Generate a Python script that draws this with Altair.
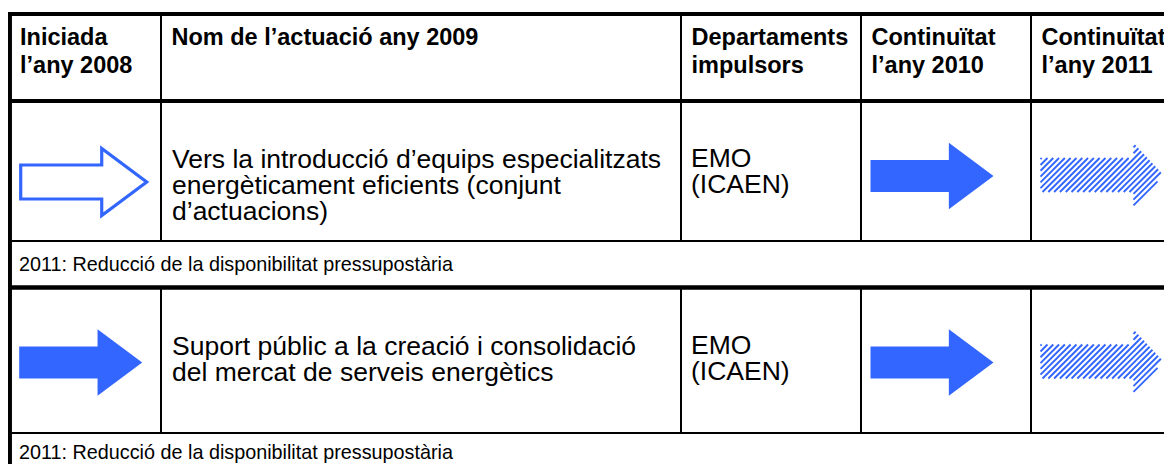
import math
import altair as alt
import pandas as pd

# ---------------- data ----------------
HEADERS = ["Iniciada\nl’any 2008", "Nom de l’actuació any 2009", "Departaments\nimpulsors",
           " Continuïtat\nl’any 2010", "Continuïtat\nl’any 2011"]
ACTUACIONS = ["Vers la introducció d’equips especialitzats\nenergèticament eficients (conjunt\nd’actuacions)",
              "Suport públic a la creació i consolidació\ndel mercat de serveis energètics"]
DEPARTAMENTS = ["EMO\n(ICAEN)", "EMO\n(ICAEN)"]
ESTAT_2008 = ["buida", "plena"]
ESTAT_2010 = ["plena", "plena"]
ESTAT_2011 = ["ratllada", "ratllada"]
OBSERVACIONS = ["2011: Reducció de la disponibilitat pressupostària",
                "2011: Reducció de la disponibilitat pressupostària"]

# ---------------- layout ----------------
W, H = 1156, 456
COL_X = [1.7, 153, 673, 853, 1023, 1180]
TOP = 6
HEAD_BOTTOM = 93
ROW_TOP = [93, 279.5]
ROW_BOTTOM = [233, 425]
NOTE_BOTTOM = [279.5, 470]
BLUE = "#3366FF"
FONT = "Liberation Sans"

# table rules
rules = []
rules.append(dict(x=-10, x2=W + 20, y=TOP, y2=TOP, w=4.2))
rules.append(dict(x=-10, x2=W + 20, y=HEAD_BOTTOM, y2=HEAD_BOTTOM, w=4.2))
for r in range(len(ACTUACIONS)):
    rules.append(dict(x=-10, x2=W + 20, y=ROW_BOTTOM[r], y2=ROW_BOTTOM[r], w=2))
    rules.append(dict(x=-10, x2=W + 20, y=NOTE_BOTTOM[r], y2=NOTE_BOTTOM[r], w=4.6))
rules.append(dict(x=COL_X[0], x2=COL_X[0], y=TOP - 2, y2=H + 20, w=4.5))
bands = [(TOP, HEAD_BOTTOM)] + list(zip(ROW_TOP, ROW_BOTTOM))
for (a, b) in bands:
    for cx in COL_X[1:5]:
        rules.append(dict(x=cx, x2=cx, y=a, y2=b, w=2))
rules_df = pd.DataFrame(rules)

# texts
head_df = pd.DataFrame([dict(x=(COL_X[i] + 10.5 if i else 12), y=37, t=h) for i, h in enumerate(HEADERS)])
body = []
notes = []
for r in range(len(ACTUACIONS)):
    body.append(dict(x=COL_X[1] + 11, y=ROW_TOP[r] + 67, t=ACTUACIONS[r]))
    body.append(dict(x=COL_X[2] + 10, y=ROW_TOP[r] + 66, t=DEPARTAMENTS[r]))
    notes.append(dict(x=11, y=min(ROW_BOTTOM[r] + 30, H - 5), t=OBSERVACIONS[r]))
body_df = pd.DataFrame(body)
note_df = pd.DataFrame(notes)

# arrows
STYLE = {"plena": dict(w=123, off=9.5, dy=0),
         "buida": dict(w=126, off=11, dy=6),
         "ratllada": dict(w=123, off=9.5, dy=-1)}
arrows = []
for r in range(len(ACTUACIONS)):
    for c, estat in ((0, ESTAT_2008[r]), (3, ESTAT_2010[r]), (4, ESTAT_2011[r])):
        st = STYLE[estat]
        arrows.append(dict(x=COL_X[c] + st["off"] + st["w"] / 2,
                           y=ROW_TOP[r] + 75 + st["dy"], tipus=estat))
arrows_df = pd.DataFrame(arrows)


def arrow_path(hs, sh, hh):
    pts = [(-1, -sh), (hs, -sh), (hs, -hh), (1, 0), (hs, hh), (hs, sh), (-1, sh)]
    return "M" + "L".join(f"{x:.4f},{y:.4f}" for x, y in pts) + "Z"


def clip(poly, p0, d):
    cx = sum(p[0] for p in poly) / len(poly)
    cy = sum(p[1] for p in poly) / len(poly)
    tmin, tmax = -1e9, 1e9
    n = len(poly)
    for i in range(n):
        ax, ay = poly[i]
        bx, by = poly[(i + 1) % n]
        nx, ny = -(by - ay), (bx - ax)
        if nx * (cx - ax) + ny * (cy - ay) < 0:
            nx, ny = -nx, -ny
        num = nx * (p0[0] - ax) + ny * (p0[1] - ay)
        den = nx * d[0] + ny * d[1]
        if abs(den) < 1e-12:
            if num < 0:
                return None
            continue
        t = -num / den
        if den > 0:
            tmin = max(tmin, t)
        else:
            tmax = min(tmax, t)
    if tmin < tmax:
        return tmin, tmax
    return None


def hatch_path(hs, sh, hh, step):
    rect = [(-1, -sh), (hs, -sh), (hs, sh), (-1, sh)]
    tri = [(hs, -hh), (1, 0), (hs, hh)]
    d = (1.0, -1.0)
    parts = []
    c = -1 - hh - 0.02
    while c < 1 + hh + 0.02:
        p0 = (c / 2, c / 2)
        for poly in (rect, tri):
            res = clip(poly, p0, d)
            if res:
                t0, t1 = res
                x0, y0 = p0[0] + t0 * d[0], p0[1] + t0 * d[1]
                x1, y1 = p0[0] + t1 * d[0], p0[1] + t1 * d[1]
                parts.append(f"M{x0:.4f},{y0:.4f}L{x1:.4f},{y1:.4f}")
        c += step
    return "".join(parts)


SOLID = arrow_path(0.274, 0.26, 0.54)
HOLLOW = arrow_path(0.286, 0.27, 0.532)
HATCH = hatch_path(0.512, 0.276, 0.52, 5.8 / 61.5)

xs = alt.Scale(domain=[0, W], nice=False, zero=False)
ys = alt.Scale(domain=[0, H], nice=False, zero=False, reverse=True)


def X(f="x"):
    return alt.X(f"{f}:Q", scale=xs, axis=None)


def Y(f="y"):
    return alt.Y(f"{f}:Q", scale=ys, axis=None)


rule_layer = alt.Chart(rules_df).mark_rule(color="black", strokeCap="butt").encode(
    x=X(), x2="x2:Q", y=Y(), y2="y2:Q",
    strokeWidth=alt.StrokeWidth("w:Q", scale=None, legend=None))

head_layer = alt.Chart(head_df).mark_text(
    align="left", baseline="alphabetic", lineBreak="\n", lineHeight=28,
    font=FONT, fontSize=23.5, fontWeight="bold", color="black").encode(x=X(), y=Y(), text="t:N")

body_layer = alt.Chart(body_df).mark_text(
    align="left", baseline="alphabetic", lineBreak="\n", lineHeight=26,
    font=FONT, fontSize=26.5, color="black").encode(x=X(), y=Y(), text="t:N")

note_layer = alt.Chart(note_df).mark_text(
    align="left", baseline="alphabetic", font=FONT, fontSize=19.8, color="black").encode(
    x=X(), y=Y(), text="t:N")

solid_layer = alt.Chart(arrows_df).transform_filter(alt.datum.tipus == "plena").mark_point(
    shape=SOLID, size=123 ** 2, filled=True, fill=BLUE, opacity=1, strokeWidth=0).encode(x=X(), y=Y())

hollow_layer = alt.Chart(arrows_df).transform_filter(alt.datum.tipus == "buida").mark_point(
    shape=HOLLOW, size=126 ** 2, filled=False, stroke=BLUE, fill="white", fillOpacity=1,
    opacity=1, strokeWidth=3.2).encode(x=X(), y=Y())

hatch_layer = alt.Chart(arrows_df).transform_filter(alt.datum.tipus == "ratllada").mark_point(
    shape=HATCH, size=123 ** 2, filled=False, stroke=BLUE, opacity=1, strokeWidth=1.9,
    strokeCap="butt").encode(x=X(), y=Y())

chart = alt.layer(rule_layer, head_layer, body_layer, note_layer,
                  solid_layer, hollow_layer, hatch_layer).properties(
    width=W, height=H, padding=0, autosize=alt.AutoSizeParams(type="none"),
    background="white").configure_view(stroke=None)

chart.save("out.html", embed_options={"renderer": "svg", "actions": False})
